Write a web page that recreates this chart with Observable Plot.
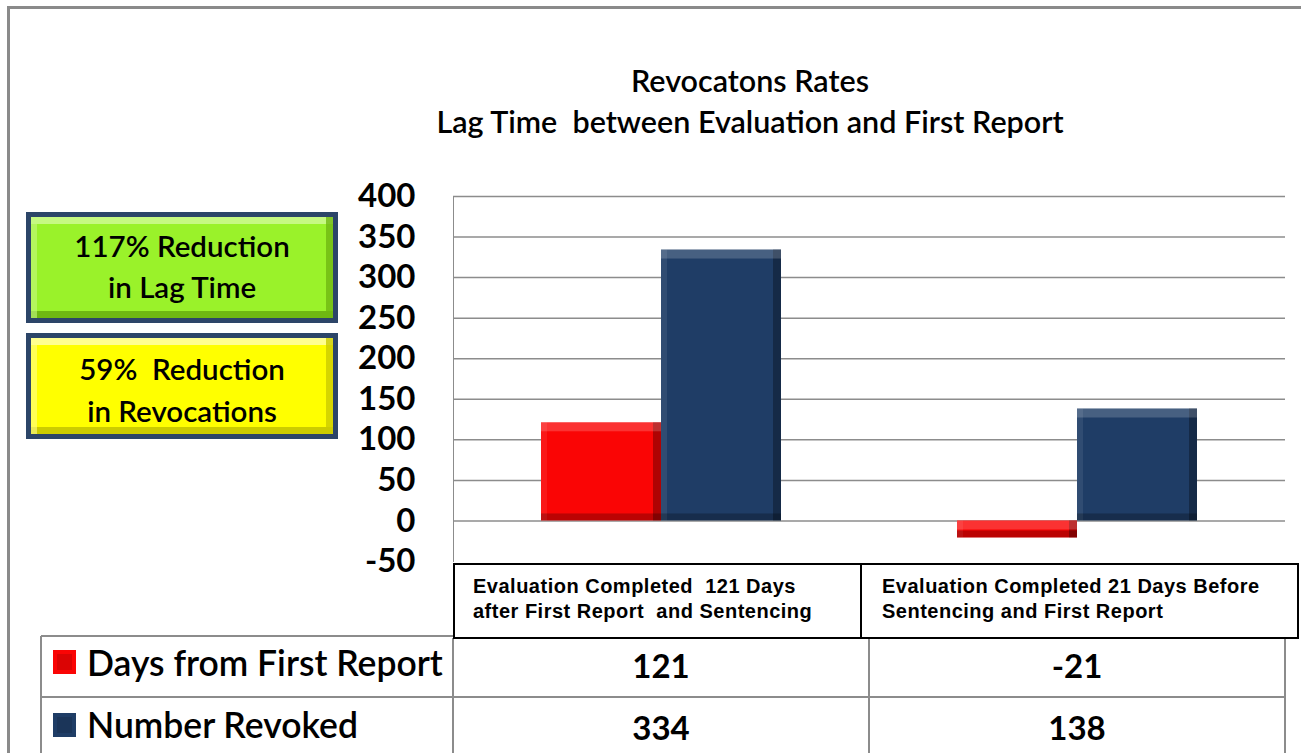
<!DOCTYPE html>
<html>
<head>
<meta charset="utf-8">
<script src="https://cdn.jsdelivr.net/npm/d3@7"></script>
<script src="https://cdn.jsdelivr.net/npm/@observablehq/plot@0.6"></script>
<style>
html, body { margin: 0; padding: 0; background: #fff; }
#root { position: relative; width: 1301px; height: 753px; overflow: hidden; background: #fff; font-family: Lato, "Open Sans", sans-serif; }
#root > svg { position: absolute; left: 0; top: 0; }
</style>
</head>
<body>
<div id="root"></div>
<script>
// ---------------- DATA ----------------
const categories = [
  "Evaluation Completed  121 Days after First Report  and Sentencing",
  "Evaluation Completed 21 Days Before Sentencing and First Report"
];
const categoryLines = [
  ["Evaluation Completed  121 Days", "after First Report  and Sentencing"],
  ["Evaluation Completed 21 Days Before", "Sentencing and First Report"]
];
const seriesNames = ["Days from First Report", "Number Revoked"];
const daysFromFirstReport = [121, -21];
const numberRevoked = [334, 138];
const yTicks = [-50, 0, 50, 100, 150, 200, 250, 300, 350, 400];
const titleLines = ["Revocatons Rates", "Lag Time  between Evaluation and First Report"];
const calloutLines = [["117% Reduction", "in Lag Time"], ["59%  Reduction", "in Revocations"]];

// ---------------- STYLE ----------------
const seriesColors = ["#fa0505", "#1f3d66"];
const W = 1301, H = 753;
const plotLeft = 453, plotRight = 1285, plotTop = 196, plotBottom = 561, svgH = 563;
const gridColor = "#8c8c8c";

const rows = categories.flatMap((c, i) => [
  {category: c, series: seriesNames[0], value: daysFromFirstReport[i]},
  {category: c, series: seriesNames[1], value: numberRevoked[i]}
]);

const root = document.getElementById("root");

const chart = Plot.plot({
  width: W,
  height: svgH,
  marginLeft: plotLeft,
  marginRight: W - plotRight,
  marginTop: plotTop,
  marginBottom: svgH - plotBottom,
  style: {fontFamily: "Lato, sans-serif", color: gridColor, background: "transparent", overflow: "visible"},
  fx: {domain: categories, padding: 0, axis: null, label: null},
  x: {domain: seriesNames, paddingInner: 0, paddingOuter: 0.733, axis: null, label: null},
  y: {domain: [-50, 400], ticks: yTicks, tickSize: 0, tickPadding: 38, label: null, line: true, tickFormat: d => String(d)},
  color: {domain: seriesNames, range: seriesColors},
  marks: [
    Plot.ruleY(yTicks.filter(t => t > -50), {stroke: gridColor, strokeWidth: 1.5}),
    Plot.barY(rows, {fx: "category", x: "series", y: "value", fill: "series"}),
    // bevel: right dark edge
    Plot.barY(rows, {fx: "category", x: "series", y: "value", fill: "#000", fillOpacity: 0.3, insetLeft: 112}),
    // bevel: left light edge
    Plot.barY(rows, {fx: "category", x: "series", y: "value", fill: "#fff", fillOpacity: 0.08, insetRight: 114}),
    // bevel: top light strip
    Plot.barY(rows, {fx: "category", x: "series", y1: d => Math.max(0, d.value), y2: d => Math.max(0, d.value), insetBottom: -9, fill: "#fff", fillOpacity: 0.18}),
    // bevel: bottom dark strip
    Plot.barY(rows, {fx: "category", x: "series", y1: d => Math.min(0, d.value), y2: d => Math.min(0, d.value), insetTop: -7, fill: "#000", fillOpacity: 0.25})
  ]
});

chart.querySelectorAll("text").forEach(t => {
  t.style.fill = "#000";
  t.style.fontSize = "33px";
  t.style.fontWeight = "700";
  t.style.fontFamily = "Lato, sans-serif";
});
root.appendChild(chart);

// ---------------- OVERLAY (frame, titles, callouts, data table) ----------------
const svg = d3.create("svg").attr("width", W).attr("height", H);

// outer frame
svg.append("path").attr("d", `M8.5,${H} V7.5 H${W}`).attr("fill", "none")
  .attr("stroke", "#8a8a8a").attr("stroke-width", 3);

// title
const titleBaselines = [92, 133];
titleLines.forEach((t, i) => {
  svg.append("text").attr("x", 750).attr("y", titleBaselines[i]).attr("text-anchor", "middle")
    .attr("font-family", "Lato, sans-serif").attr("font-size", 30.5).attr("font-weight", 600)
    .attr("fill", "#000").style("white-space", "pre").attr("xml:space", "preserve").text(t);
});

// callout boxes
const boxes = [
  {y: 212, h: 111, fill: "#9af22a", light: "#c6f982", dark: "#6fb812", baselines: [257, 298]},
  {y: 333, h: 106, fill: "#ffff00", light: "#ffff90", dark: "#cccc00", baselines: [380, 422]}
];
boxes.forEach((b, i) => {
  const g = svg.append("g");
  g.append("rect").attr("x", 26).attr("y", b.y).attr("width", 312).attr("height", b.h).attr("fill", "#2c4568");
  g.append("rect").attr("x", 31).attr("y", b.y + 5).attr("width", 302).attr("height", b.h - 10).attr("fill", b.fill);
  g.append("rect").attr("x", 31).attr("y", b.y + 5).attr("width", 302).attr("height", 7).attr("fill", b.light);
  g.append("rect").attr("x", 31).attr("y", b.y + b.h - 12).attr("width", 302).attr("height", 7).attr("fill", b.dark);
  g.append("rect").attr("x", 326).attr("y", b.y + 5).attr("width", 7).attr("height", b.h - 10).attr("fill", b.dark).attr("opacity", 0.8);
  g.append("rect").attr("x", 31).attr("y", b.y + 5).attr("width", 6).attr("height", b.h - 10).attr("fill", b.light).attr("opacity", 0.6);
  calloutLines[i].forEach((t, j) => {
    g.append("text").attr("x", 182).attr("y", b.baselines[j]).attr("text-anchor", "middle")
      .attr("font-family", "Lato, sans-serif").attr("font-size", 29.5).attr("font-weight", 600)
      .attr("fill", "#000").style("white-space", "pre").attr("xml:space", "preserve").text(t);
  });
});

// data table
const col = d3.scaleBand(categories, [plotLeft, plotRight]);
const tableLeft = 41, headerTop = 563, headerBottom = 638, headerRight = 1299, headerDivider = 861;
const rowTops = [636, 697], rowBottom = 760;

const lines = svg.append("g").attr("stroke", gridColor).attr("stroke-width", 2).attr("fill", "none");
lines.append("line").attr("x1", tableLeft).attr("x2", plotLeft).attr("y1", rowTops[0]).attr("y2", rowTops[0]);
lines.append("line").attr("x1", tableLeft).attr("x2", plotRight).attr("y1", rowTops[1]).attr("y2", rowTops[1]);
lines.append("line").attr("x1", tableLeft).attr("x2", tableLeft).attr("y1", rowTops[0]).attr("y2", rowBottom);
[plotLeft, col(categories[1]), plotRight].forEach(x => {
  lines.append("line").attr("x1", x).attr("x2", x).attr("y1", headerBottom).attr("y2", rowBottom);
});

// header box
svg.append("rect").attr("x", plotLeft + 1).attr("y", headerTop + 1).attr("width", headerRight - plotLeft - 2)
  .attr("height", headerBottom - headerTop - 1).attr("fill", "#fff").attr("stroke", "#000").attr("stroke-width", 2);
svg.append("line").attr("x1", headerDivider).attr("x2", headerDivider).attr("y1", headerTop).attr("y2", headerBottom)
  .attr("stroke", "#000").attr("stroke-width", 2);
const headerTextX = [plotLeft + 20, headerDivider + 21];
categoryLines.forEach((ls, i) => {
  ls.forEach((t, j) => {
    svg.append("text").attr("x", headerTextX[i]).attr("y", 593 + j * 25)
      .attr("font-family", "'Liberation Sans', Arial, sans-serif").attr("font-size", 20).attr("font-weight", 700)
      .attr("letter-spacing", 0.5)
      .attr("fill", "#000").style("white-space", "pre").attr("xml:space", "preserve").text(t);
  });
});

// rows
const seriesValues = [daysFromFirstReport, numberRevoked];
const rowBaselines = [676, 738];
const squareTops = [650, 713];
seriesNames.forEach((s, r) => {
  svg.append("rect").attr("x", 53).attr("y", squareTops[r]).attr("width", 23).attr("height", 24).attr("fill", seriesColors[r]);
  svg.append("rect").attr("x", 57).attr("y", squareTops[r] + 4).attr("width", 15).attr("height", 16).attr("fill", "#000").attr("opacity", 0.12);
  svg.append("text").attr("x", 87).attr("y", rowBaselines[r])
    .attr("font-family", "Lato, sans-serif").attr("font-size", 35.5).attr("font-weight", 600)
    .attr("fill", "#000").text(s);
  categories.forEach((c, i) => {
    svg.append("text").attr("x", col(c) + col.bandwidth() / 2).attr("y", rowBaselines[r] + 2).attr("text-anchor", "middle")
      .attr("font-family", "Lato, sans-serif").attr("font-size", 33).attr("font-weight", 700)
      .attr("fill", "#000").text(String(seriesValues[r][i]));
  });
});

root.appendChild(svg.node());
</script>
</body>
</html>
